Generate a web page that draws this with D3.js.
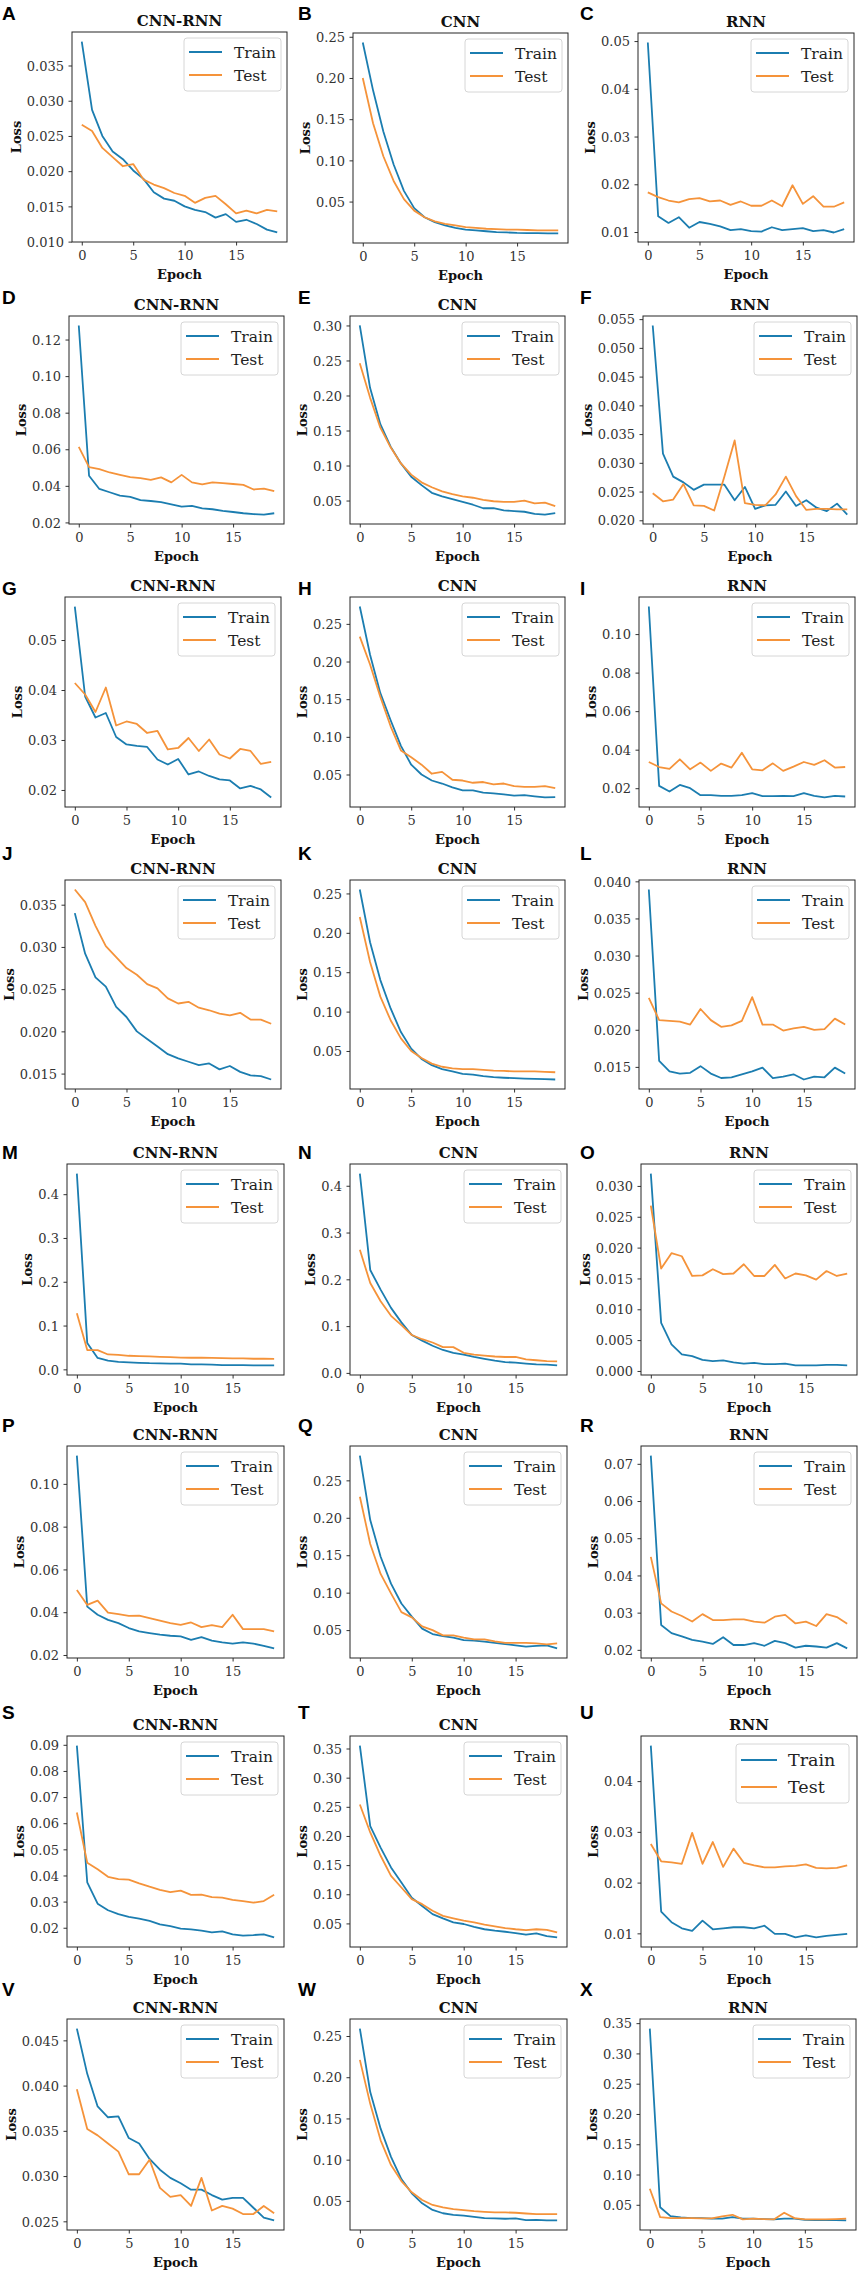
<!DOCTYPE html>
<html>
<head>
<meta charset="utf-8">
<script src="https://cdn.jsdelivr.net/npm/d3@7/dist/d3.min.js"></script>
<style>
  html, body { margin: 0; padding: 0; background: #fff; }
  svg { display: block; }
  .tick text { font-family: "DejaVu Serif", serif; font-size: 13px; fill: #333; }
  .tick line { stroke: #333; }
</style>
</head>
<body>
<div id="chart"></div>
<script>
// Training curves, 24 panels (A..X), 3 models per row
const epochs = d3.range(20);
const panelLetters = "ABCDEFGHIJKLMNOPQRSTUVWX".split("");
const modelTitles = ["CNN-RNN", "CNN", "RNN"];
const seriesNames = ["Train", "Test"];
const xTickValues = [0, 5, 10, 15];

const trainLoss = [
  /* A */ [0.0384, 0.0287, 0.0250, 0.0228, 0.0217, 0.0201, 0.0189, 0.0170, 0.0161, 0.0158, 0.0150, 0.0145, 0.0142, 0.0134, 0.0139, 0.0128, 0.0131, 0.0125, 0.0117, 0.0113],
  /* B */ [0.243, 0.185, 0.135, 0.095, 0.063, 0.042, 0.031, 0.025, 0.021, 0.018, 0.016, 0.015, 0.014, 0.013, 0.0125, 0.012, 0.0118, 0.0116, 0.0114, 0.0113],
  /* C */ [0.0497, 0.0133, 0.0119, 0.0131, 0.0109, 0.0121, 0.0117, 0.0112, 0.0104, 0.0106, 0.0102, 0.0101, 0.0110, 0.0104, 0.0106, 0.0108, 0.0102, 0.0104, 0.0099, 0.0106],
  /* D */ [0.1277, 0.0455, 0.0383, 0.0365, 0.0347, 0.0340, 0.0322, 0.0317, 0.0311, 0.0299, 0.0286, 0.0290, 0.0277, 0.0272, 0.0263, 0.0257, 0.0250, 0.0245, 0.0243, 0.0250],
  /* E */ [0.300, 0.211, 0.159, 0.127, 0.103, 0.084, 0.072, 0.061, 0.056, 0.052, 0.048, 0.044, 0.039, 0.039, 0.036, 0.035, 0.034, 0.031, 0.030, 0.032],
  /* F */ [0.0539, 0.0316, 0.0276, 0.0266, 0.0253, 0.0262, 0.0262, 0.0262, 0.0235, 0.0258, 0.0220, 0.0226, 0.0227, 0.0250, 0.0225, 0.0235, 0.0222, 0.0216, 0.0229, 0.0210],
  /* G */ [0.0567, 0.0387, 0.0345, 0.0354, 0.0306, 0.0291, 0.0288, 0.0286, 0.0261, 0.0251, 0.0262, 0.0231, 0.0237, 0.0228, 0.0221, 0.0219, 0.0203, 0.0208, 0.0201, 0.0185],
  /* H */ [0.273, 0.209, 0.158, 0.122, 0.088, 0.063, 0.050, 0.042, 0.038, 0.033, 0.029, 0.029, 0.026, 0.025, 0.0235, 0.022, 0.0225, 0.021, 0.0195, 0.020],
  /* I */ [0.1143, 0.0212, 0.0183, 0.0217, 0.0200, 0.0164, 0.0164, 0.0160, 0.0160, 0.0164, 0.0174, 0.0159, 0.0159, 0.0160, 0.0159, 0.0174, 0.0160, 0.0152, 0.0160, 0.0157],
  /* J */ [0.0340, 0.0292, 0.0264, 0.0253, 0.0229, 0.0217, 0.0200, 0.0191, 0.0182, 0.0173, 0.0168, 0.0164, 0.0160, 0.0162, 0.0155, 0.0159, 0.0152, 0.0148, 0.0147, 0.0143],
  /* K */ [0.255, 0.188, 0.140, 0.104, 0.074, 0.053, 0.040, 0.032, 0.027, 0.024, 0.021, 0.020, 0.018, 0.0167, 0.016, 0.0155, 0.015, 0.0146, 0.0142, 0.0138],
  /* L */ [0.0389, 0.0158, 0.0144, 0.0141, 0.0142, 0.0151, 0.0141, 0.0135, 0.0136, 0.0140, 0.0144, 0.0149, 0.0135, 0.0137, 0.0140, 0.0133, 0.0137, 0.0136, 0.0149, 0.0141],
  /* M */ [0.447, 0.060, 0.026, 0.020, 0.017, 0.016, 0.015, 0.014, 0.0136, 0.013, 0.013, 0.0113, 0.0113, 0.0106, 0.0098, 0.0098, 0.0098, 0.009, 0.009, 0.009],
  /* N */ [0.426, 0.220, 0.178, 0.139, 0.108, 0.081, 0.069, 0.058, 0.049, 0.043, 0.039, 0.034, 0.030, 0.026, 0.023, 0.022, 0.020, 0.018, 0.0176, 0.016],
  /* O */ [0.0320, 0.0078, 0.0043, 0.0027, 0.0024, 0.0018, 0.0016, 0.0017, 0.0014, 0.0012, 0.0013, 0.0011, 0.0011, 0.0012, 0.0009, 0.0009, 0.0009, 0.0010, 0.0010, 0.0009],
  /* P */ [0.1132, 0.0426, 0.0388, 0.0364, 0.0349, 0.0326, 0.0310, 0.0302, 0.0295, 0.0290, 0.0287, 0.0271, 0.0284, 0.0267, 0.0259, 0.0253, 0.0259, 0.0253, 0.0243, 0.0231],
  /* Q */ [0.283, 0.197, 0.148, 0.112, 0.0855, 0.068, 0.052, 0.0447, 0.042, 0.040, 0.0367, 0.0358, 0.0345, 0.033, 0.0313, 0.0296, 0.028, 0.029, 0.0296, 0.0256],
  /* R */ [0.0722, 0.0267, 0.0245, 0.0236, 0.0227, 0.0222, 0.0216, 0.0234, 0.0213, 0.0213, 0.0218, 0.0211, 0.0224, 0.0218, 0.0206, 0.0211, 0.0209, 0.0206, 0.0218, 0.0204],
  /* S */ [0.0897, 0.0374, 0.0292, 0.0267, 0.0252, 0.0242, 0.0235, 0.0226, 0.0213, 0.0206, 0.0197, 0.0194, 0.0189, 0.0182, 0.0186, 0.0175, 0.0170, 0.0172, 0.0175, 0.0163],
  /* T */ [0.355, 0.217, 0.180, 0.146, 0.120, 0.094, 0.080, 0.066, 0.0586, 0.0517, 0.049, 0.044, 0.040, 0.0375, 0.0357, 0.0335, 0.0306, 0.033, 0.0283, 0.026],
  /* U */ [0.0470, 0.0143, 0.0122, 0.0110, 0.0105, 0.0125, 0.0108, 0.0110, 0.0112, 0.0112, 0.0110, 0.0115, 0.0099, 0.0099, 0.0092, 0.0096, 0.0092, 0.0095, 0.0097, 0.0099],
  /* V */ [0.0463, 0.0413, 0.0377, 0.0365, 0.0366, 0.0342, 0.0336, 0.0319, 0.0307, 0.0298, 0.0292, 0.0285, 0.0285, 0.0279, 0.0274, 0.0276, 0.0276, 0.0265, 0.0254, 0.0251],
  /* W */ [0.259, 0.182, 0.1376, 0.1034, 0.0765, 0.0592, 0.047, 0.039, 0.035, 0.033, 0.032, 0.0307, 0.029, 0.0287, 0.0283, 0.0287, 0.0267, 0.027, 0.0263, 0.0263],
  /* X */ [0.341, 0.046, 0.0313, 0.029, 0.028, 0.028, 0.027, 0.027, 0.0297, 0.027, 0.027, 0.0264, 0.0258, 0.027, 0.027, 0.0253, 0.0247, 0.0247, 0.0247, 0.0242]
];

const testLoss = [
  /* A */ [0.0266, 0.0257, 0.0233, 0.0220, 0.0207, 0.0210, 0.0188, 0.0181, 0.0176, 0.0169, 0.0165, 0.0155, 0.0162, 0.0165, 0.0153, 0.0140, 0.0144, 0.0140, 0.0145, 0.0143],
  /* B */ [0.200, 0.145, 0.105, 0.075, 0.053, 0.039, 0.031, 0.026, 0.023, 0.021, 0.019, 0.018, 0.017, 0.0165, 0.016, 0.016, 0.0155, 0.015, 0.015, 0.015],
  /* C */ [0.0183, 0.0173, 0.0166, 0.0162, 0.0169, 0.0171, 0.0164, 0.0166, 0.0157, 0.0164, 0.0155, 0.0155, 0.0166, 0.0154, 0.0198, 0.0159, 0.0175, 0.0153, 0.0153, 0.0162],
  /* D */ [0.0613, 0.0502, 0.0491, 0.0473, 0.0460, 0.0448, 0.0442, 0.0433, 0.0446, 0.0419, 0.0460, 0.0419, 0.0408, 0.0419, 0.0415, 0.0410, 0.0405, 0.0380, 0.0385, 0.0371],
  /* E */ [0.246, 0.197, 0.154, 0.126, 0.103, 0.087, 0.076, 0.069, 0.063, 0.059, 0.056, 0.054, 0.051, 0.049, 0.048, 0.048, 0.050, 0.046, 0.047, 0.042],
  /* F */ [0.0247, 0.0233, 0.0236, 0.0263, 0.0226, 0.0225, 0.0217, 0.0276, 0.0339, 0.0230, 0.0227, 0.0226, 0.0245, 0.0276, 0.0242, 0.0218, 0.0220, 0.0220, 0.0219, 0.0219],
  /* G */ [0.0414, 0.0391, 0.0356, 0.0405, 0.0329, 0.0337, 0.0332, 0.0314, 0.0318, 0.0281, 0.0284, 0.0304, 0.0278, 0.0301, 0.0271, 0.0263, 0.0282, 0.0278, 0.0252, 0.0256],
  /* H */ [0.233, 0.196, 0.153, 0.114, 0.082, 0.073, 0.063, 0.051, 0.0535, 0.043, 0.042, 0.039, 0.040, 0.037, 0.038, 0.0345, 0.0335, 0.0335, 0.0345, 0.032],
  /* I */ [0.0336, 0.0310, 0.0300, 0.0350, 0.0298, 0.0333, 0.0290, 0.0328, 0.0307, 0.0384, 0.0298, 0.0293, 0.0329, 0.0290, 0.0312, 0.0336, 0.0321, 0.0345, 0.0307, 0.0310],
  /* J */ [0.0368, 0.0353, 0.0325, 0.0301, 0.0288, 0.0275, 0.0267, 0.0256, 0.0251, 0.0239, 0.0233, 0.0235, 0.0228, 0.0225, 0.0221, 0.0219, 0.0222, 0.0214, 0.0214, 0.0209],
  /* K */ [0.220, 0.163, 0.119, 0.089, 0.066, 0.050, 0.041, 0.034, 0.030, 0.028, 0.027, 0.027, 0.026, 0.025, 0.0247, 0.024, 0.024, 0.024, 0.0235, 0.023],
  /* L */ [0.0243, 0.0213, 0.0212, 0.0211, 0.0207, 0.0228, 0.0213, 0.0204, 0.0206, 0.0212, 0.0244, 0.0207, 0.0207, 0.0199, 0.0202, 0.0204, 0.0200, 0.0201, 0.0215, 0.0207],
  /* M */ [0.128, 0.044, 0.044, 0.034, 0.033, 0.031, 0.030, 0.0295, 0.0287, 0.028, 0.027, 0.0265, 0.0265, 0.026, 0.0257, 0.025, 0.025, 0.0242, 0.0242, 0.024],
  /* N */ [0.263, 0.192, 0.153, 0.122, 0.102, 0.081, 0.072, 0.065, 0.055, 0.055, 0.043, 0.039, 0.037, 0.035, 0.034, 0.034, 0.029, 0.027, 0.025, 0.0245],
  /* O */ [0.0268, 0.0166, 0.0191, 0.0186, 0.0154, 0.0155, 0.0165, 0.0157, 0.0158, 0.0173, 0.0154, 0.0154, 0.0172, 0.0150, 0.0158, 0.0155, 0.0148, 0.0162, 0.0154, 0.0158],
  /* P */ [0.0504, 0.0434, 0.0454, 0.0398, 0.0391, 0.0383, 0.0384, 0.0372, 0.0361, 0.0349, 0.0341, 0.0352, 0.0330, 0.0340, 0.0330, 0.0388, 0.0321, 0.0321, 0.0321, 0.0310],
  /* Q */ [0.228, 0.165, 0.125, 0.099, 0.074, 0.067, 0.055, 0.050, 0.043, 0.043, 0.040, 0.0376, 0.0376, 0.035, 0.033, 0.033, 0.033, 0.0322, 0.031, 0.0322],
  /* R */ [0.0450, 0.0325, 0.0303, 0.0291, 0.0276, 0.0296, 0.0280, 0.0280, 0.0282, 0.0282, 0.0276, 0.0273, 0.0289, 0.0294, 0.0271, 0.0276, 0.0264, 0.0296, 0.0288, 0.0270],
  /* S */ [0.0641, 0.0449, 0.0424, 0.0395, 0.0386, 0.0384, 0.0370, 0.0357, 0.0345, 0.0336, 0.0342, 0.0326, 0.0327, 0.0317, 0.0315, 0.0307, 0.0302, 0.0296, 0.0302, 0.0326],
  /* T */ [0.254, 0.206, 0.166, 0.1315, 0.1116, 0.0916, 0.083, 0.0717, 0.063, 0.0586, 0.0546, 0.0517, 0.048, 0.045, 0.042, 0.040, 0.0386, 0.040, 0.039, 0.0346],
  /* U */ [0.0276, 0.0242, 0.0240, 0.0237, 0.0298, 0.0237, 0.0280, 0.0231, 0.0267, 0.0239, 0.0234, 0.0230, 0.0230, 0.0232, 0.0233, 0.0236, 0.0229, 0.0228, 0.0229, 0.0234],
  /* V */ [0.0396, 0.0352, 0.0345, 0.0336, 0.0327, 0.0302, 0.0302, 0.0318, 0.0287, 0.0277, 0.0279, 0.0267, 0.0298, 0.0262, 0.0267, 0.0264, 0.0258, 0.0258, 0.0267, 0.0259],
  /* W */ [0.221, 0.1677, 0.1235, 0.0934, 0.074, 0.0604, 0.051, 0.045, 0.042, 0.040, 0.0388, 0.0376, 0.0367, 0.036, 0.036, 0.0356, 0.0347, 0.034, 0.034, 0.034],
  /* X */ [0.0764, 0.0297, 0.028, 0.028, 0.028, 0.0275, 0.0275, 0.0308, 0.0335, 0.0258, 0.027, 0.0264, 0.0258, 0.0368, 0.028, 0.0258, 0.0258, 0.0258, 0.0264, 0.027]
];

const yTickLabels = [
  /* A */ ["0.010", "0.015", "0.020", "0.025", "0.030", "0.035"],
  /* B */ ["0.05", "0.10", "0.15", "0.20", "0.25"],
  /* C */ ["0.01", "0.02", "0.03", "0.04", "0.05"],
  /* D */ ["0.02", "0.04", "0.06", "0.08", "0.10", "0.12"],
  /* E */ ["0.05", "0.10", "0.15", "0.20", "0.25", "0.30"],
  /* F */ ["0.020", "0.025", "0.030", "0.035", "0.040", "0.045", "0.050", "0.055"],
  /* G */ ["0.02", "0.03", "0.04", "0.05"],
  /* H */ ["0.05", "0.10", "0.15", "0.20", "0.25"],
  /* I */ ["0.02", "0.04", "0.06", "0.08", "0.10"],
  /* J */ ["0.015", "0.020", "0.025", "0.030", "0.035"],
  /* K */ ["0.05", "0.10", "0.15", "0.20", "0.25"],
  /* L */ ["0.015", "0.020", "0.025", "0.030", "0.035", "0.040"],
  /* M */ ["0.0", "0.1", "0.2", "0.3", "0.4"],
  /* N */ ["0.0", "0.1", "0.2", "0.3", "0.4"],
  /* O */ ["0.000", "0.005", "0.010", "0.015", "0.020", "0.025", "0.030"],
  /* P */ ["0.02", "0.04", "0.06", "0.08", "0.10"],
  /* Q */ ["0.05", "0.10", "0.15", "0.20", "0.25"],
  /* R */ ["0.02", "0.03", "0.04", "0.05", "0.06", "0.07"],
  /* S */ ["0.02", "0.03", "0.04", "0.05", "0.06", "0.07", "0.08", "0.09"],
  /* T */ ["0.05", "0.10", "0.15", "0.20", "0.25", "0.30", "0.35"],
  /* U */ ["0.01", "0.02", "0.03", "0.04"],
  /* V */ ["0.025", "0.030", "0.035", "0.040", "0.045"],
  /* W */ ["0.05", "0.10", "0.15", "0.20", "0.25"],
  /* X */ ["0.05", "0.10", "0.15", "0.20", "0.25", "0.30", "0.35"]
];

// ---- layout (pixels) ----
const width = 861;
const height = 2274;
// plot box per panel: [left, top, right, bottom]
const boxes = [
  [72, 32, 287, 242], [353, 33, 568, 243], [638, 33, 854, 242],
  [69, 316, 284, 524], [350, 316, 565, 524], [643, 316, 857, 524],
  [65, 597, 281, 807], [350, 597, 565, 807], [639, 597, 855, 807],
  [65, 880, 281, 1089], [350, 880, 565, 1089], [639, 880, 855, 1089],
  [67, 1164, 284, 1375], [350, 1164, 567, 1375], [641, 1164, 857, 1375],
  [67, 1446, 284, 1658], [350, 1446, 567, 1658], [641, 1446, 857, 1658],
  [67, 1736, 284, 1947], [350, 1736, 567, 1947], [641, 1736, 857, 1947],
  [67, 2019, 284, 2230], [350, 2019, 567, 2230], [640, 2019, 856, 2230]
];
const letterX = [2, 298, 580];
const letterBaseline = [20, 304, 595, 860, 1159, 1432, 1719, 1996];
const colors = ["#1b7db0", "#f5933a"];
const serif = "'DejaVu Serif', serif";

const svg = d3.select("#chart").append("svg")
  .attr("width", width)
  .attr("height", height)
  .style("background", "#fff");

panelLetters.forEach((letter, i) => {
  const [left, top, right, bottom] = boxes[i];
  const row = Math.floor(i / 3);
  const col = i % 3;
  const series = [trainLoss[i], testLoss[i]];
  const g = svg.append("g").attr("class", "panel");

  const x = d3.scaleLinear().domain([-0.95, 19.95]).range([left, right]);

  // matplotlib style autoscale: data extent plus 5% margin
  const [lo, hi] = d3.extent(series.flat());
  const pad = (hi - lo) * 0.05;
  const y = d3.scaleLinear().domain([lo - pad, hi + pad]).range([bottom, top]);

  const tickVals = yTickLabels[i].map(Number);

  const xAxis = g.append("g")
    .attr("transform", `translate(0,${bottom})`)
    .call(d3.axisBottom(x).tickValues(xTickValues).tickSize(3.5).tickPadding(5.5));
  xAxis.select(".domain").remove();

  const yAxis = g.append("g")
    .attr("transform", `translate(${left},0)`)
    .call(d3.axisLeft(y).tickValues(tickVals).tickFormat((d, k) => yTickLabels[i][k])
      .tickSize(3.5).tickPadding(4.5));
  yAxis.select(".domain").remove();
  yAxis.selectAll(".tick text").attr("dy", "0.36em");

  // lines
  const line = d3.line().x((d, k) => x(epochs[k])).y(d => y(d));
  series.forEach((vals, s) => {
    g.append("path")
      .datum(vals)
      .attr("fill", "none")
      .attr("stroke", colors[s])
      .attr("stroke-width", 1.8)
      .attr("stroke-linejoin", "round")
      .attr("d", line);
  });

  // frame
  g.append("rect")
    .attr("x", left).attr("y", top)
    .attr("width", right - left).attr("height", bottom - top)
    .attr("fill", "none").attr("stroke", "#262626").attr("stroke-width", 1);

  // legend (upper right)
  const big = letter === "U";
  const lw = big ? 113 : 97;
  const lh = big ? 59 : 53;
  const fs = big ? 17.5 : 15.5;
  const lx = right - (big ? 8 : 6) - lw;
  const ly = top + (big ? 8 : 6);
  const leg = g.append("g").attr("transform", `translate(${lx},${ly})`);
  leg.append("rect")
    .attr("width", lw).attr("height", lh).attr("rx", 3)
    .attr("fill", "#fff").attr("fill-opacity", 0.85)
    .attr("stroke", "#d6d6d6").attr("stroke-width", 1);
  seriesNames.forEach((name, s) => {
    const cy = (big ? 16 : 14) + s * (big ? 27 : 23);
    leg.append("line")
      .attr("x1", 5).attr("x2", big ? 41 : 38)
      .attr("y1", cy).attr("y2", cy)
      .attr("stroke", colors[s]).attr("stroke-width", 1.8);
    leg.append("text")
      .attr("x", big ? 52 : 50)
      .attr("y", cy + fs * 0.36)
      .attr("font-family", serif)
      .attr("font-size", fs)
      .attr("fill", "#222")
      .text(name);
  });

  // title
  g.append("text")
    .attr("x", (left + right) / 2)
    .attr("y", top - 6)
    .attr("text-anchor", "middle")
    .attr("font-family", serif)
    .attr("font-weight", "bold")
    .attr("font-size", 15)
    .attr("fill", "#111")
    .text(modelTitles[col]);

  // x label
  g.append("text")
    .attr("x", (left + right) / 2)
    .attr("y", bottom + 36.5)
    .attr("text-anchor", "middle")
    .attr("font-family", serif)
    .attr("font-weight", "bold")
    .attr("font-size", 13)
    .attr("fill", "#111")
    .text("Epoch");

  // y label, placed left of the tick labels (bbox is in the axis group's coords)
  const yb = yAxis.node().getBBox();
  const yLabelX = left + yb.x - 6;
  const yLabelY = (top + bottom) / 2;
  g.append("text")
    .attr("x", yLabelX)
    .attr("y", yLabelY)
    .attr("text-anchor", "middle")
    .attr("transform", `rotate(-90, ${yLabelX}, ${yLabelY})`)
    .attr("font-family", serif)
    .attr("font-weight", "bold")
    .attr("font-size", 13)
    .attr("fill", "#111")
    .text("Loss");

  // panel letter
  g.append("text")
    .attr("x", letterX[col])
    .attr("y", letterBaseline[row])
    .attr("font-family", "'Liberation Sans', Arial, sans-serif")
    .attr("font-weight", "bold")
    .attr("font-size", 19)
    .attr("fill", "#000")
    .text(letter);
});
</script>
</body>
</html>
